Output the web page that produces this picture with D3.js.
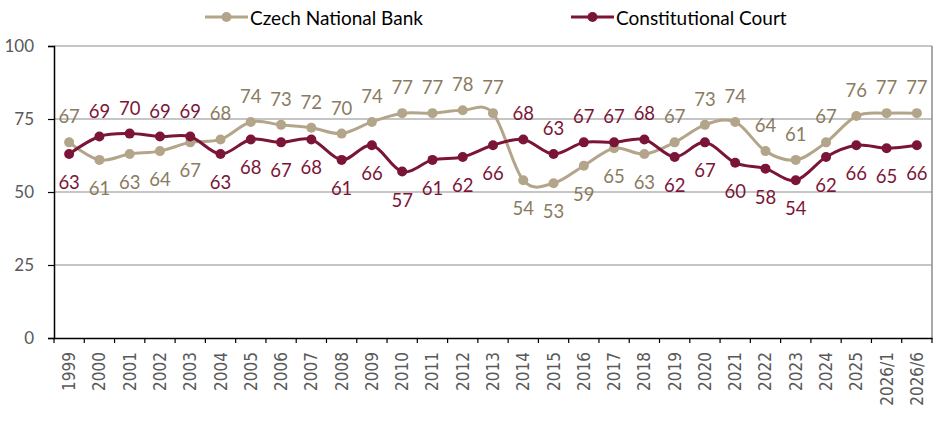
<!DOCTYPE html>
<html>
<head>
<meta charset="utf-8">
<script src="https://cdn.jsdelivr.net/npm/d3@7"></script>
<style>
  body { margin: 0; background: #fff; }
  svg { display: block; }
</style>
</head>
<body>
<div id="chart"></div>
<script>
// categories (x axis)
const years = ["1999","2000","2001","2002","2003","2004","2005","2006","2007","2008",
  "2009","2010","2011","2012","2013","2014","2015","2016","2017","2018",
  "2019","2020","2021","2022","2023","2024","2025","2026/1","2026/6"]

// trust values, %
const cnbValues = [67,61,63,64,67,68,74,73,72,70,74,77,77,78,77,54,53,59,65,63,67,73,74,64,61,67,76,77,77]
const courtValues = [63,69,70,69,69,63,68,67,68,61,66,57,61,62,66,68,63,67,67,68,62,67,60,58,54,62,66,65,66]

// where each data label sits: "a" above, "b" below
const cnbLabelPos = ["a","b","b","b","b","a","a","a","a","a","a","a","a","a","a","b","b","b","b","b","a","a","a","a","a","a","a","a","a"]
const courtLabelPos = ["b","a","a","a","a","b","b","b","b","b","b","b","b","b","b","a","a","a","a","a","b","b","b","b","b","b","b","b","b"]

const yTicks = [0, 25, 50, 75, 100]

const series = [
  { name: "Czech National Bank", values: cnbValues, pos: cnbLabelPos, line: "#B3A58A", text: "#8A7B60", legendX: 205 },
  { name: "Constitutional Court", values: courtValues, pos: courtLabelPos, line: "#7B1538", text: "#7B1538", legendX: 571 }
]

//------------------------------------------------------------------------------

const W = 945, H = 433
const margin = { top: 46, right: 13, bottom: 95, left: 54 }
const width = W - margin.left - margin.right
const height = H - margin.top - margin.bottom

const svg = d3.select("#chart").append("svg")
  .attr("width", W)
  .attr("height", H)

const g = svg.append("g")
  .attr("transform", "translate(" + margin.left + "," + margin.top + ")")

const x = d3.scaleBand().domain(years).range([0, width])
const y = d3.scaleLinear().domain([0, 100]).range([height, 0])
const cx = d => x(d) + x.bandwidth() / 2

// gridlines
g.append("g")
  .selectAll("line")
  .data(yTicks.filter(t => t > 0))
  .join("line")
  .attr("x1", 0).attr("x2", width)
  .attr("y1", d => y(d)).attr("y2", d => y(d))
  .attr("stroke", "#8C8C8C").attr("stroke-width", 1)

// right border of plot area
g.append("line")
  .attr("x1", width).attr("x2", width)
  .attr("y1", 0).attr("y2", height)
  .attr("stroke", "#8C8C8C").attr("stroke-width", 1.5)

// y axis
const yAxis = g.append("g")
  .call(d3.axisLeft(y).tickValues(yTicks).tickSize(6).tickPadding(14))
yAxis.select(".domain").attr("stroke", "#000").attr("stroke-width", 1.5)
yAxis.selectAll(".tick line").attr("stroke", "#000").attr("stroke-width", 1.2)
yAxis.selectAll("text")
  .attr("fill", "#595959")
  .style("font-family", "Lato, 'Open Sans', sans-serif")
  .style("font-size", "17px")

// x axis
const xAxis = g.append("g")
  .attr("transform", "translate(0," + height + ")")
  .call(d3.axisBottom(x).tickSize(0).tickSizeOuter(0))
xAxis.select(".domain").attr("stroke", "#000").attr("stroke-width", 1.5)
// tick marks between categories
xAxis.selectAll(".sep")
  .data(d3.range(years.length + 1))
  .join("line")
  .attr("class", "sep")
  .attr("x1", i => i * x.step()).attr("x2", i => i * x.step())
  .attr("y1", 0).attr("y2", 5)
  .attr("stroke", "#000").attr("stroke-width", 1.2)
xAxis.selectAll(".tick text")
  .attr("transform", "rotate(-90)")
  .attr("text-anchor", "end")
  .attr("dominant-baseline", "central")
  .attr("x", -14)
  .attr("y", 0)
  .attr("dy", null)
  .attr("fill", "#595959")
  .style("font-family", "'DejaVu Sans Condensed', 'DejaVu Sans', sans-serif")
  .style("font-size", "17px")

//------------------------------------------------------------------------------

// smoothed lines, like the spreadsheet's "smooth line" option
const line = d3.line()
  .x((d, i) => cx(years[i]))
  .y(d => y(d))
  .curve(d3.curveCatmullRom.alpha(0))

series.forEach(s => {
  g.append("path")
    .datum(s.values)
    .attr("d", line)
    .attr("fill", "none")
    .attr("stroke", s.line)
    .attr("stroke-width", 3)

  g.append("g")
    .selectAll("circle")
    .data(s.values)
    .join("circle")
    .attr("cx", (d, i) => cx(years[i]))
    .attr("cy", d => y(d))
    .attr("r", 5)
    .attr("fill", s.line)

  g.append("g")
    .selectAll("text")
    .data(s.values)
    .join("text")
    .attr("x", (d, i) => cx(years[i]))
    .attr("y", (d, i) => y(d) + (s.pos[i] == "a" ? -26 : 28))
    .attr("text-anchor", "middle")
    .attr("dominant-baseline", "central")
    .attr("fill", s.text)
    .style("font-family", "Lato, 'Open Sans', sans-serif")
    .style("font-size", "18.5px")
    .text(d => d)
})

// legend
const legend = svg.append("g")
series.forEach(s => {
  legend.append("line")
    .attr("x1", s.legendX).attr("x2", s.legendX + 43)
    .attr("y1", 17).attr("y2", 17)
    .attr("stroke", s.line).attr("stroke-width", 3)
  legend.append("circle")
    .attr("cx", s.legendX + 21.5).attr("cy", 17).attr("r", 5)
    .attr("fill", s.line)
  legend.append("text")
    .attr("x", s.legendX + 45)
    .attr("y", 17)
    .attr("dominant-baseline", "central")
    .attr("fill", "#000")
    .style("font-family", "Lato, 'Open Sans', sans-serif")
    .style("font-size", "19px")
    .text(s.name)
})
</script>
</body>
</html>
